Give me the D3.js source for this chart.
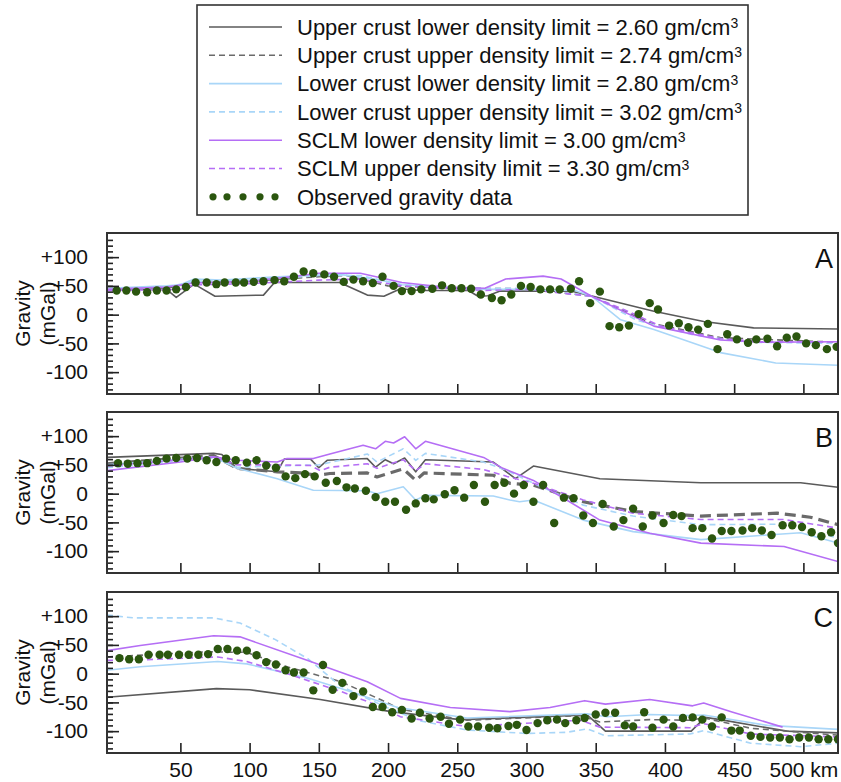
<!DOCTYPE html>
<html>
<head>
<meta charset="utf-8">
<script src="https://cdn.jsdelivr.net/npm/d3@7"></script>
<style>
  body { margin: 0; background: #fff; }
  text { font-family: "Liberation Sans", Arial, sans-serif; fill: #111; }
</style>
</head>
<body>
<svg id="chart" width="841" height="782"></svg>
<script>
// ---- data: [distance km, gravity mGal] ----
const xTicks = [50, 100, 150, 200, 250, 300, 350, 400, 450, 500];
const xTickLabels = ["50", "100", "150", "200", "250", "300", "350", "400", "450", "500 km"];
const yMajorTicks = [-100, -50, 0, 50, 100];
const yMajorLabels = ["-100", "-50", "0", "+50", "+100"];
const yMinorTicks = d3.range(-130, 140, 10);

// Panel A
const aUcLow = [[-3,44],[40,44],[47,30],[60,53],[75,32],[110,34],[118,56],[165,56],[185,34],[197,32],[209,45],[223,42],[258,42],[265,32],[272,33],[281,41],[332,41],[348,32],[392,6],[428,-12],[464,-23],[525,-25]];
const aUcHigh = [[-3,43],[40,46],[60,56],[100,58],[150,66],[170,68],[200,50],[250,46],[300,45],[347,32],[390,-15],[440,-40],[525,-48]];
const aLcLow = [[-3,46],[40,50],[50,52],[60,62],[80,60],[120,66],[165,70],[190,62],[210,52],[240,48],[270,44],[300,44],[335,42],[347,32],[368,-9],[392,-26],[440,-66],[480,-84],[525,-88]];
const aLcHigh = [[-3,45],[40,48],[60,58],[100,60],[150,68],[180,68],[210,52],[250,46],[300,46],[347,32],[380,-10],[420,-35],[460,-48],[525,-50]];
const aSclmLow = [[-3,44],[40,48],[60,55],[100,58],[130,66],[150,72],[180,72],[210,56],[240,48],[270,46],[285,62],[312,67],[325,62],[347,32],[392,-20],[440,-44],[470,-48],[525,-47]];
const aSclmHigh = [[-3,42],[50,44],[60,52],[100,54],[150,60],[180,62],[210,50],[270,42],[300,44],[347,32],[373,6],[397,-20],[440,-42],[470,-47],[525,-47]];
const aDots = [[4,42],[11,42],[18,40],[26,39],[33,42],[40,42],[47,44],[54,48],[61,56],[69,56],[76,53],[82,56],[90,56],[96,56],[103,57],[110,58],[118,60],[125,58],[132,66],[139,75],[146,72],[154,70],[161,66],[168,57],[175,61],[182,58],[189,55],[196,66],[204,50],[210,41],[217,41],[224,44],[232,45],[239,51],[246,46],[253,46],[260,45],[267,35],[275,29],[282,25],[289,35],[296,50],[303,48],[310,44],[317,44],[324,44],[332,45],[338,58],[346,20],[353,40],[360,-20],[367,-22],[374,-19],[381,1],[389,20],[395,9],[403,-19],[410,-15],[417,-22],[424,-26],[431,-16],[438,-60],[445,-34],[452,-43],[460,-49],[466,-43],[474,-42],[481,-55],[488,-40],[495,-38],[502,-50],[509,-53],[517,-60],[524,-56]];

// Panel B
const bUcLow = [[-3,63],[74,70],[80,68],[91,44],[120,38],[125,60],[144,60],[150,45],[156,58],[185,61],[191,46],[198,59],[204,52],[212,62],[220,38],[227,59],[276,55],[292,26],[305,48],[353,26],[426,19],[498,19],[525,11]];
const bUcHigh = [[-3,52],[74,66],[91,44],[120,38],[137,36],[149,32],[158,35],[185,36],[192,29],[211,43],[220,23],[226,36],[276,32],[288,18],[305,15],[341,-14],[377,-31],[426,-39],[481,-34],[505,-41],[525,-54]];
const bLcLow = [[-3,50],[74,64],[91,44],[120,26],[146,6],[185,5],[192,0],[211,12],[220,-11],[227,-3],[276,-4],[288,-11],[295,-14],[305,-11],[341,-46],[377,-66],[426,-80],[474,-72],[498,-68],[525,-86]];
const bLcHigh = [[-3,45],[74,62],[91,46],[120,48],[150,50],[180,66],[185,69],[192,55],[211,78],[220,58],[227,70],[269,55],[286,40],[305,18],[341,-20],[377,-39],[426,-54],[486,-53],[525,-77]];
const bSclmLow = [[-3,40],[50,55],[74,64],[91,58],[120,55],[127,61],[146,61],[158,69],[182,84],[191,78],[198,91],[204,88],[212,99],[220,78],[227,91],[269,63],[283,44],[305,23],[329,-11],[353,-46],[389,-69],[426,-86],[486,-92],[525,-118]];
const bSclmHigh = [[-3,48],[74,64],[91,50],[120,50],[144,49],[151,40],[158,46],[185,52],[192,44],[211,59],[220,40],[227,52],[269,42],[286,30],[305,18],[341,-11],[377,-34],[426,-45],[486,-45],[525,-60]];
const bDots = [[5,53],[12,52],[19,53],[26,53],[33,57],[40,61],[47,62],[55,61],[62,62],[69,58],[76,55],[83,61],[90,58],[98,54],[105,58],[112,49],[119,45],[126,30],[133,27],[140,34],[147,30],[155,19],[163,22],[170,11],[176,9],[184,5],[191,-6],[198,-14],[205,-14],[213,-28],[220,-17],[227,-8],[233,-10],[241,-1],[248,6],[255,-7],[262,15],[270,-14],[277,15],[284,19],[291,0],[298,15],[305,-14],[312,15],[320,-51],[327,-7],[334,-8],[341,-38],[348,-51],[355,-18],[363,-57],[370,-46],[377,-26],[384,-57],[391,-38],[399,-51],[406,-37],[412,-39],[420,-60],[427,-60],[434,-78],[441,-65],[448,-65],[456,-64],[463,-60],[470,-64],[477,-72],[485,-55],[492,-55],[499,-58],[506,-67],[513,-74],[520,-67],[525,-86]];

// Panel C
const cUcLow = [[-3,-41],[76,-26],[100,-28],[151,-45],[202,-66],[252,-80],[344,-72],[357,-100],[419,-100],[429,-76],[440,-80],[488,-100],[525,-103]];
const cUcHigh = [[-3,29],[69,38],[98,37],[127,12],[166,-14],[199,-50],[209,-62],[257,-81],[339,-73],[353,-84],[389,-80],[418,-81],[428,-77],[462,-95],[525,-107]];
const cLcLow = [[-3,6],[21,12],[77,21],[98,17],[142,-8],[166,-26],[207,-59],[257,-77],[344,-70],[358,-75],[389,-71],[418,-73],[428,-72],[474,-90],[525,-97]];
const cLcHigh = [[-3,102],[16,97],[74,97],[93,88],[118,60],[142,26],[166,-22],[202,-62],[223,-82],[257,-98],[300,-104],[329,-102],[344,-96],[357,-108],[418,-105],[428,-99],[462,-121],[498,-127],[525,-121]];
const cSclmLow = [[-3,40],[21,49],[74,66],[93,64],[142,23],[185,-14],[209,-43],[245,-59],[288,-66],[317,-59],[342,-47],[357,-53],[389,-45],[420,-56],[428,-51],[449,-67],[485,-93]];
const cSclmHigh = [[-3,23],[21,24],[77,29],[98,21],[127,0],[166,-31],[190,-53],[209,-75],[257,-92],[339,-81],[353,-93],[418,-94],[428,-87],[462,-105],[525,-110]];
const cDots = [[6,27],[13,25],[20,25],[27,33],[35,33],[41,33],[49,33],[56,33],[63,33],[70,34],[77,43],[84,43],[91,40],[98,40],[105,32],[112,20],[119,16],[126,6],[132,2],[139,2],[146,-29],[153,15],[160,-28],[167,-16],[175,-39],[182,-31],[189,-58],[196,-58],[203,-67],[210,-63],[217,-78],[223,-68],[230,-78],[238,-75],[244,-87],[252,-80],[258,-92],[265,-92],[273,-94],[279,-95],[287,-91],[293,-89],[300,-98],[308,-86],[315,-81],[322,-80],[328,-86],[336,-81],[342,-77],[350,-71],[357,-68],[364,-68],[371,-90],[377,-92],[385,-67],[391,-94],[399,-80],[406,-92],[413,-77],[420,-76],[427,-80],[434,-92],[441,-76],[448,-99],[454,-99],[462,-108],[469,-110],[476,-111],[483,-111],[490,-114],[497,-111],[504,-111],[511,-114],[518,-114],[525,-114]];

const legendLabels = [
  "Upper crust lower density limit = 2.60 gm/cm",
  "Upper crust upper density limit = 2.74 gm/cm",
  "Lower crust lower density limit = 2.80 gm/cm",
  "Lower crust upper density limit = 3.02 gm/cm",
  "SCLM lower density limit = 3.00 gm/cm",
  "SCLM upper density limit = 3.30 gm/cm",
  "Observed gravity data",
];

// ---- styles ----
const GRAY = "#5a5a5a";
const BLUE = "#a9d6f8";
const PURPLE = "#b56ef5";
const GREEN = "#2b560f";
const seriesStyle = [
  { color: GRAY, dash: null, width: 1.6 },
  { color: "#6a6a6a", dash: "6,4", width: 1.6 },
  { color: BLUE, dash: null, width: 1.6 },
  { color: BLUE, dash: "6,4", width: 1.6 },
  { color: PURPLE, dash: null, width: 1.6 },
  { color: PURPLE, dash: "6,4", width: 1.6 },
];

const panels = [
  { label: "A", top: 233, lines: [aUcLow, aUcHigh, aLcLow, aLcHigh, aSclmLow, aSclmHigh], dots: aDots },
  { label: "B", top: 412, lines: [bUcLow, bUcHigh, bLcLow, bLcHigh, bSclmLow, bSclmHigh], dots: bDots, thickUc: true },
  { label: "C", top: 592, lines: [cUcLow, cUcHigh, cLcLow, cLcHigh, cSclmLow, cSclmHigh], dots: cDots, xLabels: true },
];

const svg = d3.select("#chart");
const left = 107, right = 838, panelH = 161;

const x = d3.scaleLinear().domain([-3, 525]).range([left, right]);

panels.forEach((p) => {
  const y = d3.scaleLinear().domain([-138, 142]).range([p.top + panelH, p.top]);
  const g = svg.append("g");

  const clipId = "clip" + p.label;
  svg.append("clipPath").attr("id", clipId)
    .append("rect").attr("x", left).attr("y", p.top).attr("width", right - left).attr("height", panelH);

  const line = d3.line().x((d) => x(d[0])).y((d) => y(d[1]));
  const plot = g.append("g").attr("clip-path", `url(#${clipId})`);

  // model curves
  p.lines.forEach((data, i) => {
    const s = seriesStyle[i];
    const thick = p.thickUc && i === 1;
    plot.append("path")
      .datum(data)
      .attr("d", line)
      .attr("fill", "none")
      .attr("stroke", s.color)
      .attr("stroke-width", thick ? 3.2 : s.width)
      .attr("stroke-dasharray", thick ? "11,6" : s.dash)
      .attr("stroke-linejoin", "round");
  });

  // observed points
  plot.selectAll(".dot")
    .data(p.dots)
    .enter()
    .append("circle")
    .attr("class", "dot")
    .attr("cx", (d) => x(d[0]))
    .attr("cy", (d) => y(d[1]))
    .attr("r", 4.2)
    .attr("fill", GREEN);

  // axes (ticks point inward)
  const yMinor = g.append("g").attr("transform", `translate(${left},0)`)
    .call(d3.axisLeft(y).tickValues(yMinorTicks).tickSize(-6).tickFormat(""));
  const yMajor = g.append("g").attr("transform", `translate(${left},0)`)
    .call(d3.axisLeft(y).tickValues(yMajorTicks).tickSize(-12).tickPadding(19)
      .tickFormat((d, i) => yMajorLabels[i]));
  const xAxis = g.append("g").attr("transform", `translate(0,${p.top + panelH})`)
    .call(d3.axisBottom(x).tickValues(xTicks).tickSize(-10).tickPadding(17)
      .tickFormat((d, i) => (p.xLabels ? xTickLabels[i] : "")));

  [yMinor, yMajor, xAxis].forEach((a) => {
    a.select(".domain").remove();
    a.selectAll("line").attr("stroke", "#222").attr("stroke-width", 1.6);
    a.selectAll("text").style("font-size", "21px").attr("fill", "#111");
  });
  xAxis.selectAll("text").attr("dy", "0.32em");

  // frame
  g.append("rect")
    .attr("x", left).attr("y", p.top)
    .attr("width", right - left).attr("height", panelH)
    .attr("fill", "none").attr("stroke", "#333").attr("stroke-width", 2);

  // panel letter
  g.append("text")
    .attr("x", right - 5).attr("y", p.top + 35)
    .attr("text-anchor", "end")
    .style("font-size", "27px")
    .text(p.label);

  // y axis title
  const cy = p.top + panelH / 2;
  g.append("text")
    .attr("transform", `translate(30,${cy}) rotate(-90)`)
    .attr("text-anchor", "middle")
    .style("font-size", "21px")
    .text("Gravity");
  g.append("text")
    .attr("transform", `translate(55,${cy}) rotate(-90)`)
    .attr("text-anchor", "middle")
    .style("font-size", "21px")
    .text("(mGal)");
});

// ---- legend ----
const legend = svg.append("g");
legend.append("rect")
  .attr("x", 197).attr("y", 5).attr("width", 551).attr("height", 210)
  .attr("fill", "#fff").attr("stroke", "#333").attr("stroke-width", 1.6);

legendLabels.forEach((label, i) => {
  const ly = 27 + i * 28.3;
  if (i < 6) {
    const s = seriesStyle[i];
    legend.append("line")
      .attr("x1", 209).attr("x2", 282).attr("y1", ly).attr("y2", ly)
      .attr("stroke", s.color).attr("stroke-width", s.width)
      .attr("stroke-dasharray", s.dash);
  } else {
    legend.selectAll(".ldot")
      .data([213, 227, 243, 260, 275])
      .enter()
      .append("circle")
      .attr("cx", (d) => d).attr("cy", ly).attr("r", 3.6)
      .attr("fill", GREEN);
  }
  const t = legend.append("text")
    .attr("x", 297).attr("y", ly).attr("dy", "0.35em")
    .style("font-size", "22px")
    .text(label);
  if (i < 6) {
    t.append("tspan").attr("dy", "-0.45em").style("font-size", "14px").text("3");
  }
});
</script>
</body>
</html>
